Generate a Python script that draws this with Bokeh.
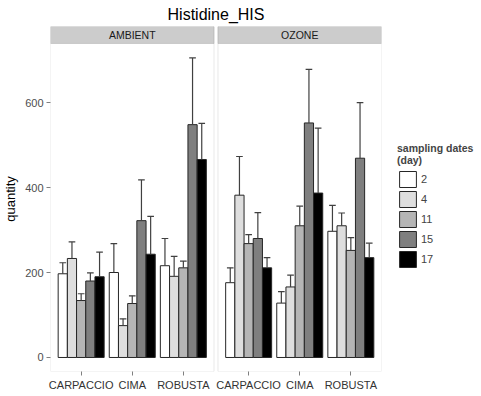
from bokeh.plotting import figure
from bokeh.models import (FactorRange, Range1d, BoxAnnotation, ColumnDataSource,
                          Legend, LegendItem, FixedTicker)
from bokeh.transform import dodge
from bokeh.core.properties import value
from bokeh.embed import file_html
from bokeh.resources import INLINE

# ---------------- data ----------------
panels = ["AMBIENT", "OZONE"]
cultivars = ["CARPACCIO", "CIMA", "ROBUSTA"]
days = ["2", "4", "11", "15", "17"]
fills = ["#FFFFFF", "#DEDEDE", "#B5B5B5", "#7F7F7F", "#000000"]

# mean quantity per cultivar (CARPACCIO, CIMA, ROBUSTA)
ambient_d2 = [197, 200, 216]
ambient_d4 = [233, 75, 191]
ambient_d11 = [134, 127, 211]
ambient_d15 = [180, 322, 548]
ambient_d17 = [190, 243, 466]
ozone_d2 = [176, 128, 297]
ozone_d4 = [382, 166, 310]
ozone_d11 = [268, 310, 252]
ozone_d15 = [280, 552, 469]
ozone_d17 = [211, 387, 235]

# upper end of error bars
ambient_d2_up = [223, 268, 280]
ambient_d4_up = [272, 91, 238]
ambient_d11_up = [150, 145, 227]
ambient_d15_up = [199, 418, 705]
ambient_d17_up = [248, 332, 551]
ozone_d2_up = [211, 155, 358]
ozone_d4_up = [473, 194, 340]
ozone_d11_up = [289, 356, 282]
ozone_d15_up = [341, 678, 600]
ozone_d17_up = [235, 540, 269]

y_ticks = [0, 200, 400, 600]

ambient = [ambient_d2, ambient_d4, ambient_d11, ambient_d15, ambient_d17]
ozone = [ozone_d2, ozone_d4, ozone_d11, ozone_d15, ozone_d17]
ambient_up = [ambient_d2_up, ambient_d4_up, ambient_d11_up, ambient_d15_up, ambient_d17_up]
ozone_up = [ozone_d2_up, ozone_d4_up, ozone_d11_up, ozone_d15_up, ozone_d17_up]

# ---------------- layout constants ----------------
Y_LO, Y_HI = -33, 739      # panel y extent
STRIP = 40                 # strip height (data units)
PAD = 0.1
GROUP_PAD = 0.278
BAR_W = 0.9 / len(days)

factors = [(pn, c) for pn in panels for c in cultivars]
x_range = FactorRange(*factors, factor_padding=0, group_padding=GROUP_PAD,
                      range_padding=PAD, range_padding_units="absolute")

p = figure(frame_width=331, frame_height=345, x_range=x_range,
           y_range=Range1d(Y_LO, Y_HI + STRIP),
           output_backend="svg", toolbar_location=None,
           min_border_left=44, min_border_right=10, min_border_top=0,
           min_border_bottom=10)
p.title.text = "Histidine_HIS"
p.title.align = "center"
p.title.text_font = "Liberation Sans"
p.title.text_font_size = "16px"
p.title.text_font_style = "normal"
p.title.text_color = "#000000"
if "standoff" in p.title.properties():
    p.title.standoff = p.title.standoff - 3
p.outline_line_color = None
p.xgrid.visible = False
p.ygrid.visible = False
p.background_fill_color = "#FFFFFF"
p.border_fill_color = "#FFFFFF"

# panels and strips
ncat = len(cultivars)
for i, pn in enumerate(panels):
    left = -PAD + i * (ncat + GROUP_PAD)
    right = left + ncat + 2 * PAD
    p.add_layout(BoxAnnotation(left=left, right=right, fill_color=None,
                               line_color="#B3B3B3", line_width=1, level="underlay"))
    p.add_layout(BoxAnnotation(left=left, right=right, bottom=Y_HI,
                               fill_color="#CCCCCC", fill_alpha=1,
                               line_color="#8C8C8C", line_width=1, level="underlay"))

p.text(x=[(pn, cultivars[1]) for pn in panels], y=[Y_HI + STRIP / 2] * len(panels),
       text=panels, text_align="center", text_baseline="middle",
       text_font=value("Liberation Sans"), text_font_size="10.5px", text_color="#1A1A1A")

# bars and error bars
renderers = []
for j, d in enumerate(days):
    off = (j - (len(days) - 1) / 2) * BAR_W
    tops = ambient[j] + ozone[j]
    ups = ambient_up[j] + ozone_up[j]
    src = ColumnDataSource(dict(x=factors, top=tops, upper=ups))
    r = p.vbar(x=dodge("x", off, range=p.x_range), top="top", bottom=0, width=BAR_W,
               source=src, fill_color=fills[j], line_color="#262626", line_width=1)
    renderers.append(r)
    p.segment(x0=dodge("x", off, range=p.x_range), x1=dodge("x", off, range=p.x_range),
              y0="top", y1="upper", source=src, line_color="#404040", line_width=1.2)
    p.segment(x0=dodge("x", off - 0.065, range=p.x_range), x1=dodge("x", off + 0.065, range=p.x_range),
              y0="upper", y1="upper", source=src, line_color="#404040", line_width=1.2)

# axes
p.yaxis.ticker = FixedTicker(ticks=y_ticks)
p.yaxis.axis_line_color = None
p.yaxis.major_tick_out = 4
p.yaxis.major_tick_in = 0
p.yaxis.minor_tick_line_color = None
p.yaxis.major_tick_line_color = "#7F7F7F"
p.yaxis.major_label_text_font = "Liberation Sans"
p.yaxis.major_label_text_font_size = "11px"
p.yaxis.major_label_text_color = "#4D4D4D"
p.yaxis.major_label_standoff = 3
p.yaxis.axis_label = "quantity"
p.yaxis.axis_label_text_font = "Liberation Sans"
p.yaxis.axis_label_text_font_size = "13px"
p.yaxis.axis_label_text_font_style = "normal"
p.yaxis.axis_label_text_color = "#000000"
p.yaxis.axis_label_standoff = 4

p.xaxis.axis_line_color = None
p.xaxis.major_tick_out = 4
p.xaxis.major_tick_in = 0
p.xaxis.major_tick_line_color = "#7F7F7F"
p.xaxis.major_label_text_font = "Liberation Sans"
p.xaxis.major_label_text_font_size = "11px"
p.xaxis.major_label_text_color = "#333333"
p.xaxis.major_label_standoff = 3
p.xaxis.group_text_font_size = "0px"
p.xaxis.group_text_color = None
p.xaxis.separator_line_color = None

legend = Legend(items=[LegendItem(label=d, renderers=[r]) for d, r in zip(days, renderers)],
                title="sampling dates\n(day)", location=(16, 102),
                glyph_width=21, glyph_height=20, label_height=20, spacing=0,
                label_standoff=3, padding=0, margin=16,
                label_text_font="Liberation Sans", label_text_font_size="11px",
                title_text_font="Liberation Sans", title_text_font_size="10.5px",
                title_text_font_style="bold", title_text_line_height=1.4, title_standoff=3,
                background_fill_alpha=0, border_line_color=None)
p.add_layout(legend, "right")

open("out.html", "w").write(file_html(p, INLINE))
